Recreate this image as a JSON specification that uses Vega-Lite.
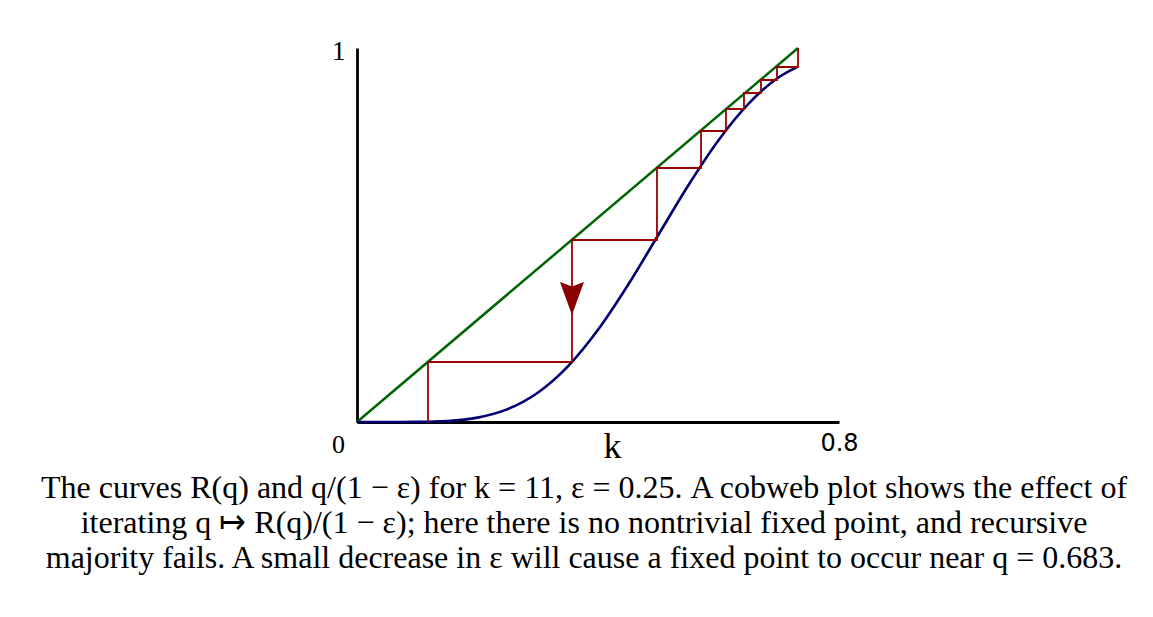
{
  "$schema": "https://vega.github.io/schema/vega-lite/v6.json",
  "width": 482,
  "height": 374,
  "autosize": {"type": "none"},
  "padding": {"left": 357, "top": 48, "right": 314, "bottom": 195},
  "background": "white",
  "config": {"view": {"stroke": null}},
  "title": {
    "text": [
      "The curves R(q) and q/(1 − ε) for k = 11, ε = 0.25. A cobweb plot shows the effect of",
      "iterating q ↦ R(q)/(1 − ε); here there is no nontrivial fixed point, and recursive",
      "majority fails. A small decrease in ε will cause a fixed point to occur near q = 0.683."
    ],
    "orient": "bottom",
    "anchor": "middle",
    "frame": "group",
    "font": "Liberation Serif",
    "fontSize": 32,
    "fontWeight": "normal",
    "lineHeight": 35,
    "color": "black",
    "dx": -14,
    "offset": 9
  },
  "datasets": {
    "diag": [{"q": 0, "v": 0}, {"q": 0.732, "v": 1}],
    "curve": [
      {"q": 0, "v": 0},
      {"q": 0.05, "v": 0.0000056},
      {"q": 0.1, "v": 0.0003},
      {"q": 0.15, "v": 0.0027},
      {"q": 0.2, "v": 0.0117},
      {"q": 0.25, "v": 0.0343},
      {"q": 0.3, "v": 0.0782},
      {"q": 0.35, "v": 0.1487},
      {"q": 0.4, "v": 0.2465},
      {"q": 0.45, "v": 0.3669},
      {"q": 0.5, "v": 0.5},
      {"q": 0.55, "v": 0.6331},
      {"q": 0.6, "v": 0.7535},
      {"q": 0.65, "v": 0.8513},
      {"q": 0.7, "v": 0.9218},
      {"q": 0.732, "v": 0.9502}
    ],
    "cobweb": [
      {"step": 1, "q": 0.1178, "v": 0},
      {"step": 2, "q": 0.1178, "v": 0.1604},
      {"step": 3, "q": 0.3568, "v": 0.1604},
      {"step": 4, "q": 0.3568, "v": 0.4866},
      {"step": 5, "q": 0.4979, "v": 0.4866},
      {"step": 6, "q": 0.4979, "v": 0.6791},
      {"step": 7, "q": 0.571, "v": 0.6791},
      {"step": 8, "q": 0.571, "v": 0.7781},
      {"step": 9, "q": 0.6124, "v": 0.7781},
      {"step": 10, "q": 0.6124, "v": 0.8369},
      {"step": 11, "q": 0.6423, "v": 0.8369},
      {"step": 12, "q": 0.6423, "v": 0.8797},
      {"step": 13, "q": 0.6705, "v": 0.8797},
      {"step": 14, "q": 0.6705, "v": 0.9144},
      {"step": 15, "q": 0.6971, "v": 0.9144},
      {"step": 16, "q": 0.6971, "v": 0.9492},
      {"step": 17, "q": 0.732, "v": 0.9492},
      {"step": 18, "q": 0.732, "v": 1}
    ],
    "arrow": [{"q": 0.3568, "v": 0.3302}]
  },
  "encoding": {
    "x": {
      "field": "q", "type": "quantitative",
      "scale": {"domain": [0, 0.8], "nice": false, "zero": false},
      "axis": {
        "values": [0, 0.8],
        "format": "~g",
        "labelFlush": false,
        "labelOverlap": false,
        "domainColor": "black", "domainWidth": 2.8,
        "ticks": false, "grid": false,
        "labelPadding": 9,
        "labelColor": "black",
        "labelFont": {"condition": {"test": "datum.value == 0", "value": "Liberation Serif"}, "value": "DejaVu Sans"},
        "labelFontSize": {"condition": {"test": "datum.value == 0", "value": 26}, "value": 24},
        "labelOffset": {"condition": {"test": "datum.value == 0", "value": -19}, "value": 0},
        "title": "k",
        "titleFont": "Liberation Serif",
        "titleFontSize": 36,
        "titleFontWeight": "normal",
        "titleColor": "black",
        "titleX": 255,
        "titleY": 35,
        "titleBaseline": "alphabetic",
        "titleAlign": "center"
      }
    },
    "y": {
      "field": "v", "type": "quantitative",
      "scale": {"domain": [0, 1], "nice": false, "zero": false},
      "axis": {
        "values": [1],
        "labelFlush": false,
        "domainColor": "black", "domainWidth": 2.8,
        "ticks": false, "grid": false,
        "labelPadding": 12,
        "labelColor": "black",
        "labelFont": "Liberation Serif",
        "labelFontSize": 27,
        "labelBaseline": "middle",
        "labelOffset": 3,
        "title": null
      }
    }
  },
  "layer": [
    {
      "data": {"name": "diag"},
      "mark": {"type": "line", "color": "#006400", "strokeWidth": 2.5}
    },
    {
      "data": {"name": "curve"},
      "mark": {"type": "line", "color": "#000070", "strokeWidth": 2.6, "interpolate": "monotone"}
    },
    {
      "data": {"name": "cobweb"},
      "mark": {"type": "line", "color": "#990000", "strokeWidth": 1.8},
      "encoding": {
        "order": {"field": "step", "type": "quantitative"}
      }
    },
    {
      "data": {"name": "arrow"},
      "mark": {"type": "point", "filled": true, "color": "#8b0000", "opacity": 1, "strokeWidth": 0,
               "shape": "M -1 -1.375 L 0 -1 L 1 -1.375 L 0 1.375 Z", "size": 576}
    }
  ]
}
